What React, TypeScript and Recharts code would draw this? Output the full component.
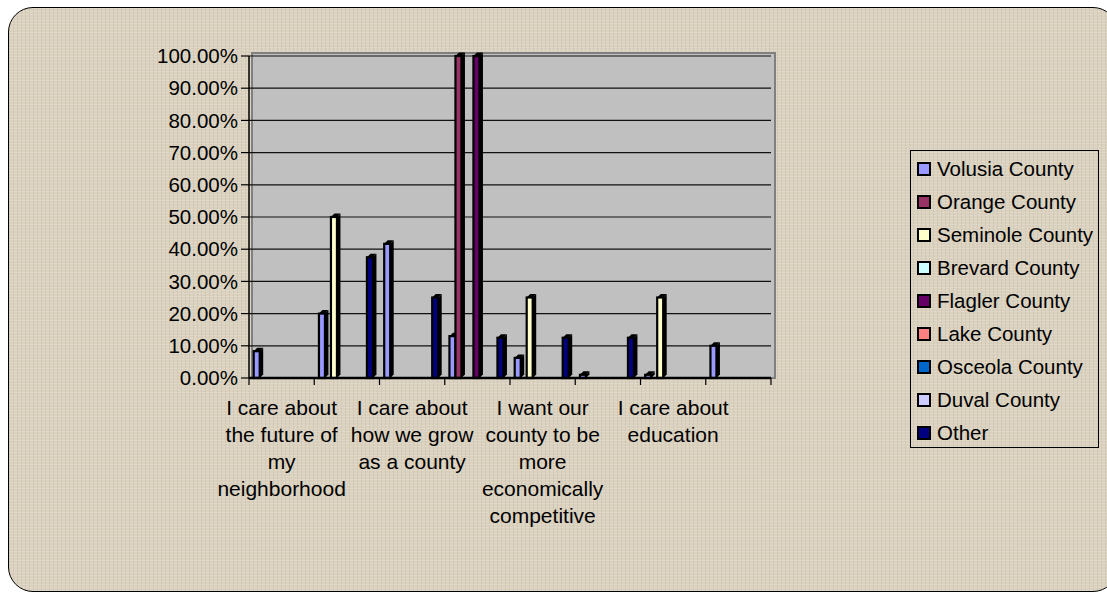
import React from "react";
import { BarChart, Bar, XAxis, YAxis, CartesianGrid, Legend } from "recharts";

const FONT = '"Liberation Sans", Arial, sans-serif';

// 8 categories, only every other one carries a visible label in the original
const categories = [
  "I care about the future of my neighborhood",
  "",
  "I care about how we grow as a county",
  "",
  "I want our county to be more economically competitive",
  "",
  "I care about education",
  "",
];

const seriesNames = [
  "Volusia County",
  "Orange County",
  "Seminole County",
  "Brevard County",
  "Flagler County",
  "Lake County",
  "Osceola County",
  "Duval County",
  "Other",
];

const seriesColors = [
  "#9999FF",
  "#993366",
  "#FFFFCC",
  "#CCFFFF",
  "#660066",
  "#FF8080",
  "#0066CC",
  "#CCCCFF",
  "#000080",
];

// values as fractions (0..1)
const volusia = [0.0833, 0.2, 0.4167, 0.13, 0.0625, 0.01, 0.01, 0.1];
const orange = [0, 0, 0, 1, 0, 0, 0, 0];
const seminole = [0, 0.5, 0, 0, 0.25, 0, 0.25, 0];
const brevard = [0, 0, 0, 0, 0, 0, 0, 0];
const flagler = [0, 0, 0, 1, 0, 0, 0, 0];
const lake = [0, 0, 0, 0, 0, 0, 0, 0];
const osceola = [0, 0, 0, 0, 0, 0, 0, 0];
const duval = [0, 0, 0, 0, 0, 0, 0, 0];
const other = [0, 0.375, 0.25, 0.125, 0.125, 0.125, 0, 0];

const yTicks = [0, 0.1, 0.2, 0.3, 0.4, 0.5, 0.6, 0.7, 0.8, 0.9, 1];

const seriesValues = [volusia, orange, seminole, brevard, flagler, lake, osceola, duval, other];

const data = categories.map((c, i) => {
  const row: any = { key: String(i) };
  seriesNames.forEach((s, j) => {
    row[s] = seriesValues[j][i];
  });
  return row;
});

const CHART_W = 1107;
const CHART_H = 593;
const MARGIN = { top: 56, right: 336, bottom: 65, left: 169 };
const Y_W = 80;
const PLOT_W = CHART_W - MARGIN.left - MARGIN.right - Y_W;
const BAND = PLOT_W / categories.length;

const LABEL_SIZE = 21;
const LABEL_WRAP = 128;
const LABEL_LH = 27;

let measureCtx: CanvasRenderingContext2D | null = null;
function textWidth(s: string) {
  if (!measureCtx) {
    const c = document.createElement("canvas");
    measureCtx = c.getContext("2d");
  }
  if (!measureCtx) return s.length * LABEL_SIZE * 0.5;
  measureCtx.font = `${LABEL_SIZE}px "Liberation Sans", Arial, sans-serif`;
  return measureCtx.measureText(s).width;
}

function wrap(label: string) {
  const words = label.split(" ");
  const lines: string[] = [];
  let cur = "";
  words.forEach((w) => {
    const t = cur ? cur + " " + w : w;
    if (cur && textWidth(t) > LABEL_WRAP) {
      lines.push(cur);
      cur = w;
    } else cur = t;
  });
  if (cur) lines.push(cur);
  return lines;
}

// column with a little fake 3d depth, like the old excel charts
const Column3D = (props: any) => {
  const { x, y, width, height, fill } = props;
  if (!height || height <= 0) return null;
  const d = 3.5;
  return (
    <g>
      <polygon
        points={`${x + width},${y} ${x + width + d},${y - d} ${x + width + d},${y + height - d} ${x + width},${y + height}`}
        fill="#000"
      />
      <polygon
        points={`${x},${y} ${x + d},${y - d} ${x + width + d},${y - d} ${x + width},${y}`}
        fill="#000"
      />
      <rect x={x} y={y} width={width} height={height} fill={fill} stroke="#000" strokeWidth={2.2} />
    </g>
  );
};

// category tick: excel puts tick marks on the category edges
const CategoryTick = (props: any) => {
  const { x, y, payload } = props;
  const idx = Number(payload.value);
  const label = categories[idx];
  const left = x - BAND / 2;
  const lines = label ? wrap(label) : [];
  return (
    <g>
      <line x1={left} y1={y} x2={left} y2={y + 7} stroke="#000" strokeWidth={1.2} />
      {idx === categories.length - 1 && (
        <line x1={left + BAND} y1={y} x2={left + BAND} y2={y + 7} stroke="#000" strokeWidth={1.2} />
      )}
      {lines.length > 0 && (
        <text x={x} y={y + 37} textAnchor="middle" fontSize={LABEL_SIZE} fontFamily={FONT} fill="#000">
          {lines.map((l, k) => (
            <tspan key={k} x={x} dy={k === 0 ? 0 : LABEL_LH}>
              {l}
            </tspan>
          ))}
        </text>
      )}
    </g>
  );
};

const LegendBox = () => (
  <div
    style={{
      border: "1px solid #000",
      boxSizing: "border-box",
      width: 189,
      height: 298,
      paddingTop: 1,
      fontFamily: FONT,
      fontSize: 20.5,
      color: "#000",
    }}
  >
    {seriesNames.map((s, j) => (
      <div key={s} style={{ display: "flex", alignItems: "center", height: 33, paddingLeft: 6 }}>
        <span
          style={{
            display: "inline-block",
            width: 10,
            height: 10,
            border: "2px solid #000",
            background: seriesColors[j],
            marginRight: 6,
          }}
        />
        <span style={{ whiteSpace: "nowrap" }}>{s}</span>
      </div>
    ))}
  </div>
);

export default function App() {
  return (
    <div
      style={{
        position: "absolute",
        left: 0,
        top: 0,
        width: CHART_W,
        height: CHART_H,
        overflow: "hidden",
        background: "#fff",
      }}
    >
      <div
        style={{
          position: "absolute",
          left: 8,
          top: 7,
          width: 1110,
          height: 585,
          boxSizing: "border-box",
          border: "1.5px solid #000",
          borderRadius: 25,
          backgroundColor: "#DAD1BF",
          backgroundImage:
            "repeating-linear-gradient(0deg, rgba(255,255,255,0.14) 0px, rgba(255,255,255,0.14) 1px, transparent 1px, transparent 3px), repeating-linear-gradient(90deg, rgba(120,100,70,0.09) 0px, rgba(120,100,70,0.09) 1px, transparent 1px, transparent 4px)",
        }}
      />
      {/* back wall of the plot */}
      <div
        style={{
          position: "absolute",
          left: 251,
          top: 52,
          width: 525,
          height: 327,
          boxSizing: "border-box",
          border: "2px solid #808080",
          background: "#C0C0C0",
        }}
      />
      <div style={{ position: "absolute", left: 0, top: 0 }}>
        <BarChart
          width={CHART_W}
          height={CHART_H}
          data={data}
          margin={MARGIN}
          barCategoryGap={4.7}
          barGap={0}
        >
          <CartesianGrid vertical={false} stroke="#111" strokeWidth={1.2} />
          <XAxis
            dataKey="key"
            interval={0}
            height={150}
            axisLine={{ stroke: "#000", strokeWidth: 2.5 }}
            tickLine={false}
            tickSize={0}
            tickMargin={0}
            tick={<CategoryTick />}
          />
          <YAxis
            domain={[0, 1]}
            ticks={yTicks}
            width={Y_W}
            tickSize={8}
            tickMargin={3}
            interval={0}
            axisLine={{ stroke: "#000", strokeWidth: 1.5 }}
            tickLine={{ stroke: "#000", strokeWidth: 1.2 }}
            tick={{ fill: "#000", fontSize: 20.5, fontFamily: FONT }}
            tickFormatter={(v: number) => (v * 100).toFixed(2) + "%"}
          />
          <Legend
            layout="horizontal"
            align="center"
            verticalAlign="middle"
            content={<LegendBox />}
            wrapperStyle={{ position: "absolute", left: 910, top: 150, width: 189, height: 298 }}
          />
          {seriesNames.map((s, j) => (
            <Bar
              key={s}
              dataKey={s}
              name={s}
              fill={seriesColors[j]}
              shape={<Column3D />}
              isAnimationActive={false}
            />
          ))}
        </BarChart>
      </div>
    </div>
  );
}
